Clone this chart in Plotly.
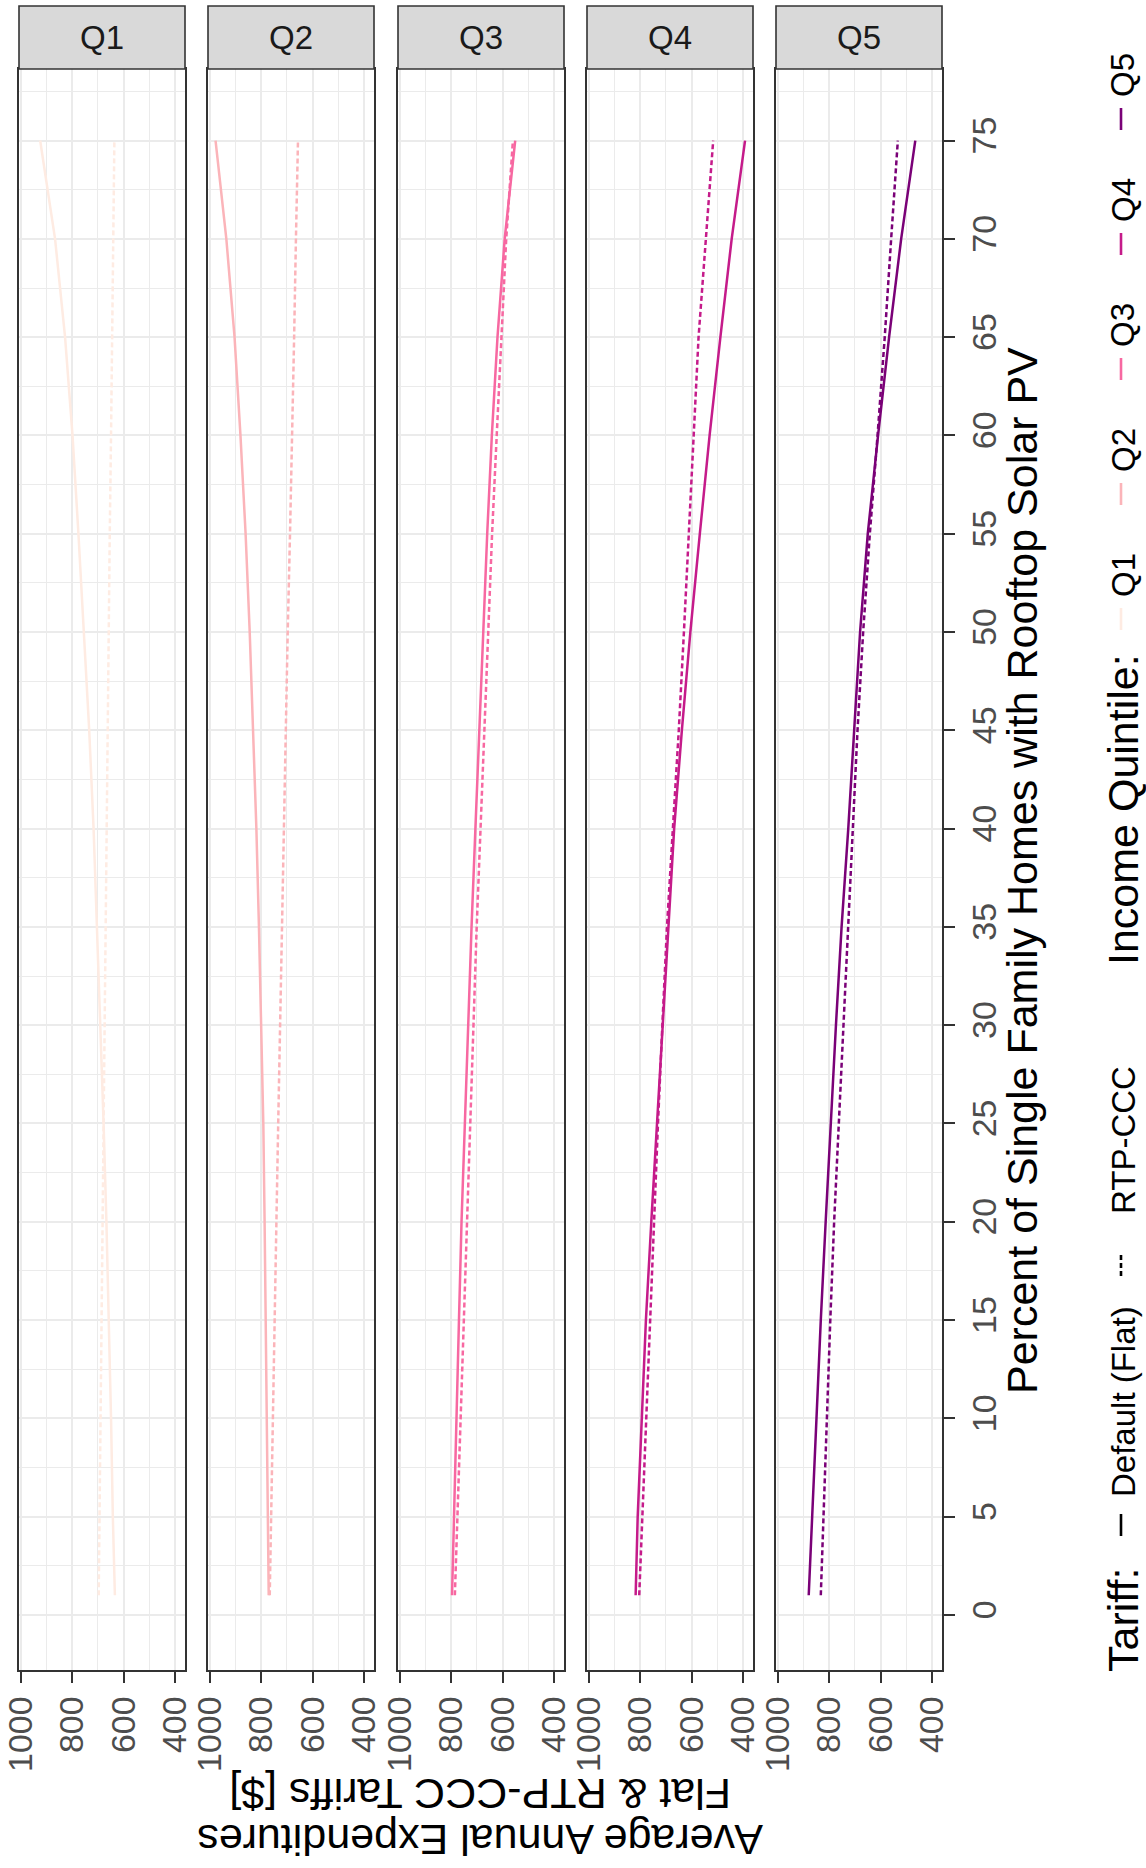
import plotly.graph_objects as go

# ---------------- data ----------------
pct = [1, 5, 10, 15, 20, 25, 30, 35, 40, 45, 50, 55, 60, 65, 70, 75]
quintiles = ["Q1", "Q2", "Q3", "Q4", "Q5"]
colors = ["#FEEBE2", "#FBB4B9", "#F768A1", "#C51B8A", "#7A0177"]

flat_q1 = [634, 642, 649, 657, 667, 678, 691, 703, 717, 734, 754, 776, 799, 828, 867, 925]
flat_q2 = [771, 774, 778, 782, 787, 792, 800, 809, 819, 831, 845, 861, 881, 904, 936, 978]
flat_q3 = [797, 790, 780, 770, 760, 748, 735, 721, 706, 691, 676, 660, 642, 620, 592, 551]
flat_q4 = [818, 810, 794, 778, 757, 735, 713, 692, 668, 638, 605, 568, 530, 488, 444, 392]
flat_q5 = [880, 867, 850, 833, 814, 795, 774, 752, 726, 703, 680, 650, 610, 567, 520, 465]

rtp_q1 = [697, 694, 690, 686, 682, 678, 674, 670, 666, 662, 658, 654, 649, 645, 641, 636]
rtp_q2 = [767, 762, 755, 748, 741, 734, 727, 720, 713, 706, 697, 688, 679, 672, 665, 657]
rtp_q3 = [786, 776, 764, 752, 740, 727, 714, 701, 686, 671, 656, 641, 623, 605, 586, 560]
rtp_q4 = [804, 792, 777, 763, 748, 731, 714, 696, 673, 650, 630, 610, 592, 573, 545, 516]
rtp_q5 = [833, 823, 810, 796, 781, 763, 745, 727, 709, 690, 668, 642, 612, 584, 559, 533]

flat = [flat_q1, flat_q2, flat_q3, flat_q4, flat_q5]
rtp = [rtp_q1, rtp_q2, rtp_q3, rtp_q4, rtp_q5]

exp_ticks = [400, 600, 800, 1000]
exp_minor = [500, 700, 900]
pct_ticks = list(range(0, 80, 5))
pct_minor = [p + 2.5 for p in range(0, 80, 5)]

x_title = "Percent of Single Family Homes with Rooftop Solar PV"
y_title_1 = "Average Annual Expenditures"
y_title_2 = "Flat &amp; RTP-CCC Tariffs [$]"

# ---------------- layout geometry (pixels) ----------------
W, H = 1146, 1868
FONT = "Liberation Sans, Arial, sans-serif"
panel_left = [19, 208, 398, 587, 776]
panel_w = 166
panel_top, panel_bot = 69, 1670
strip_top = 6
DASH = "5px,3px"
LW = 2.5

def px(x):
    return x / W

def py(y):
    return 1 - y / H

fig = go.Figure()
layout = dict(
    width=W, height=H,
    margin=dict(l=0, r=0, t=0, b=0, pad=0, autoexpand=False),
    paper_bgcolor="white", plot_bgcolor="white",
    showlegend=False,
    font=dict(family=FONT, color="#000000"),
)

shapes = []
annotations = []

for i in range(5):
    n = "" if i == 0 else str(i + 1)
    xa, ya = "x" + n, "y" + n
    fig.add_trace(go.Scatter(x=flat[i], y=pct, mode="lines", xaxis=xa, yaxis=ya,
                             line=dict(color=colors[i], width=LW), hoverinfo="skip"))
    fig.add_trace(go.Scatter(x=rtp[i], y=pct, mode="lines", xaxis=xa, yaxis=ya,
                             line=dict(color=colors[i], width=LW, dash=DASH), hoverinfo="skip"))
    l = panel_left[i]
    layout["xaxis" + n] = dict(
        domain=[px(l), px(l + panel_w)], anchor=ya, automargin=False,
        range=[1007.4, 361], tickmode="array", tickvals=exp_ticks,
        showgrid=True, gridcolor="#EBEBEB", gridwidth=2.4, zeroline=False,
        minor=dict(tickmode="array", tickvals=exp_minor, showgrid=True,
                   gridcolor="#EBEBEB", gridwidth=1.2, ticks=""),
        showline=True, mirror=True, linecolor="#333333", linewidth=1.6,
        ticks="outside", ticklen=11, tickwidth=2, tickcolor="#333333",
        tickangle=-90, tickfont=dict(size=34, color="#4D4D4D", family=FONT),
    )
    yd = dict(
        domain=[py(panel_bot), py(panel_top)], anchor=xa, automargin=False,
        range=[-2.8, 78.64], tickmode="array", tickvals=pct_ticks,
        showgrid=True, gridcolor="#EBEBEB", gridwidth=2.4, zeroline=False,
        minor=dict(tickmode="array", tickvals=pct_minor, showgrid=True,
                   gridcolor="#EBEBEB", gridwidth=1.2, ticks=""),
        showline=True, mirror=True, linecolor="#333333", linewidth=1.6,
    )
    if i == 4:
        yd.update(side="right", ticks="outside", ticklen=11, tickwidth=2,
                  tickcolor="#333333", tickangle=-90,
                  tickfont=dict(size=34, color="#4D4D4D", family=FONT))
    else:
        yd.update(showticklabels=False, ticks="")
    layout["yaxis" + n] = yd

    # strip
    shapes.append(dict(type="rect", xref="paper", yref="paper",
                       x0=px(l), x1=px(l + panel_w), y0=py(panel_top), y1=py(strip_top),
                       fillcolor="#D9D9D9", line=dict(color="#333333", width=1.6)))
    annotations.append(dict(xref="paper", yref="paper", x=px(l + panel_w / 2),
                            y=py((panel_top + strip_top) / 2), text=quintiles[i],
                            showarrow=False, xanchor="center", yanchor="middle",
                            font=dict(size=33, color="#1A1A1A", family=FONT)))

# axis titles
annotations.append(dict(xref="paper", yref="paper", x=px(1022), y=py(871), text=x_title,
                        textangle=-90, showarrow=False, xanchor="center", yanchor="middle",
                        font=dict(size=43, color="#000000", family=FONT)))
annotations.append(dict(xref="paper", yref="paper", x=px(480), y=py(1840), text=y_title_1,
                        textangle=180, showarrow=False, xanchor="center", yanchor="middle",
                        font=dict(size=43, color="#000000", family=FONT)))
annotations.append(dict(xref="paper", yref="paper", x=px(480), y=py(1794), text=y_title_2,
                        textangle=180, showarrow=False, xanchor="center", yanchor="middle",
                        font=dict(size=43, color="#000000", family=FONT)))

# legend (rotated)
LX = 1123
def leg_text(txt, yc, size):
    annotations.append(dict(xref="paper", yref="paper", x=px(LX), y=py(yc), text=txt,
                            textangle=-90, showarrow=False, xanchor="center", yanchor="middle",
                            font=dict(size=size, color="#000000", family=FONT)))

def leg_key(yc, color, dash="solid"):
    shapes.append(dict(type="line", xref="paper", yref="paper", x0=px(1121), x1=px(1121),
                       y0=py(yc + 11), y1=py(yc - 11),
                       line=dict(color=color, width=2.6, dash=dash)))

leg_text("Tariff:", 1620, 43)
leg_key(1525, "#000000")
leg_text("Default (Flat)", 1402, 33)
leg_key(1265, "#000000", DASH)
leg_text("RTP-CCC", 1140, 33)
leg_text("Income Quintile:", 810, 43)
key_y = [619, 494, 369, 244, 119]
for i in range(5):
    leg_key(key_y[i], colors[i])
    leg_text(quintiles[i], key_y[i] - 44, 33)

layout["shapes"] = shapes
layout["annotations"] = annotations
fig.update_layout(**layout)
fig.write_html("out.html")
